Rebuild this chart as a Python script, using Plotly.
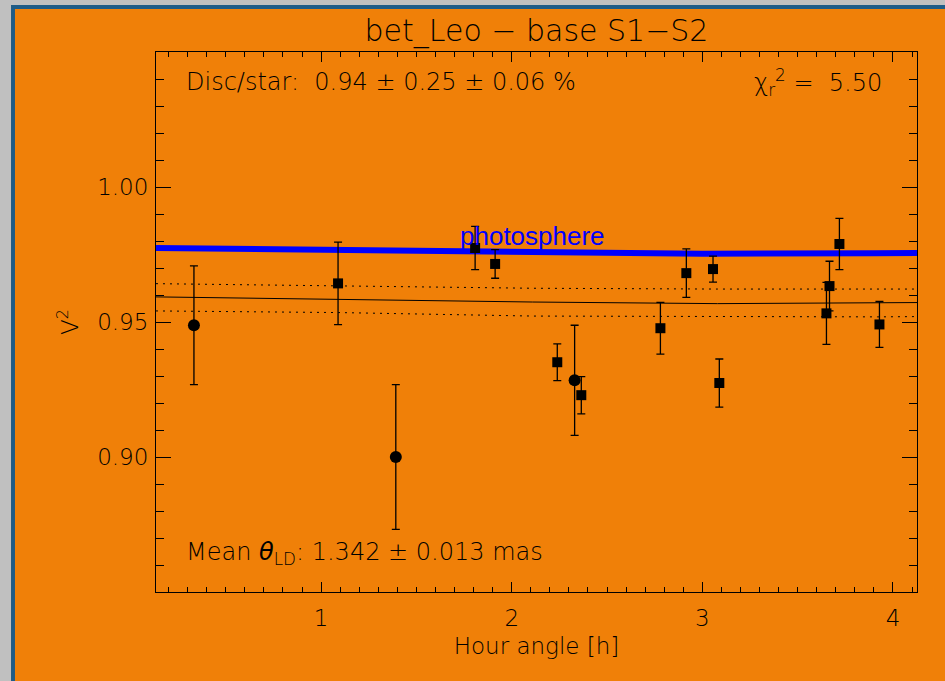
import plotly.graph_objects as go

ha_sq = [1.089, 1.808, 1.913, 2.239, 2.365, 2.780, 2.916, 3.056, 3.089, 3.651, 3.667, 3.719, 3.929]
v2_sq = [0.9643, 0.9774, 0.9715, 0.9351, 0.9229, 0.9477, 0.9681, 0.9696, 0.9274, 0.9532, 0.9633, 0.9789, 0.9491]
err_sq = [0.0153, 0.0080, 0.0053, 0.0068, 0.0069, 0.0096, 0.0090, 0.0048, 0.0089, 0.0115, 0.0092, 0.0095, 0.0085]

ha_dot = [0.333, 1.392, 2.330]
v2_dot = [0.9488, 0.9000, 0.9284]
err_dot = [0.0220, 0.0268, 0.0204]

# Model curves
model_ha = [0.134, 1.09, 2.11, 3.08, 3.92, 4.126]
model_v2 = [0.9593, 0.9584, 0.9574, 0.9568, 0.9573, 0.9572]
model_hi = [0.9642, 0.9635, 0.9625, 0.9622, 0.9621, 0.9622]
model_lo = [0.9541, 0.9535, 0.9522, 0.9519, 0.9519, 0.9520]

photo_ha = [0.134, 1.09, 1.6, 2.1, 3.0, 3.9, 4.126]
photo_v2 = [0.9774, 0.9766, 0.9760, 0.9756, 0.9753, 0.9755, 0.9756]

x_ticks = [1, 2, 3, 4]
y_ticks = [0.90, 0.95, 1.00]
y_tick_text = ['0.90', '0.95', '1.00']

orange = '#F08008'
font_main = 'DejaVu Sans ExtraLight, DejaVu Sans'

fig = go.Figure()

fig.add_trace(go.Scatter(x=photo_ha, y=photo_v2, mode='lines',
                         line=dict(color='#0000FF', width=6), hoverinfo='skip'))
fig.add_trace(go.Scatter(x=model_ha, y=model_hi, mode='lines',
                         line=dict(color='black', width=1, dash='2px,5px')))
fig.add_trace(go.Scatter(x=model_ha, y=model_lo, mode='lines',
                         line=dict(color='black', width=1, dash='2px,5px')))
fig.add_trace(go.Scatter(x=model_ha, y=model_v2, mode='lines',
                         line=dict(color='black', width=1)))

err_style = dict(type='data', thickness=1.3, width=4, color='black')
fig.add_trace(go.Scatter(x=ha_sq, y=v2_sq, mode='markers',
                         marker=dict(symbol='square', size=10, color='black'),
                         error_y=dict(array=err_sq, **err_style)))
fig.add_trace(go.Scatter(x=ha_dot, y=v2_dot, mode='markers',
                         marker=dict(symbol='circle', size=12, color='black'),
                         error_y=dict(array=err_dot, **err_style)))

# Text labels inside the frame
txt = dict(family=font_main, size=24, color='black', weight=200)
fig.add_annotation(x=0.037, y=0.944, xref='paper', yref='paper', xanchor='left', yanchor='middle',
                   text='Disc/star:\u00a0\u00a00.94 \u00b1 0.25 \u00b1 0.06 %', showarrow=False, font=txt)
fig.add_annotation(x=0.9566, y=0.944, xref='paper', yref='paper', xanchor='right', yanchor='middle',
                   text='\u03c7<sub>r</sub><sup>2</sup> =\u00a0\u00a05.50', showarrow=False, font=txt)
fig.add_annotation(x=0.037, y=0.072, xref='paper', yref='paper', xanchor='left', yanchor='middle',
                   text='Mean <i>\u03b8</i><sub>LD</sub>: 1.342 \u00b1 0.013 mas', showarrow=False, font=txt)
fig.add_annotation(x=1.72, y=0.982, xanchor='left', yanchor='middle', text='photosphere',
                   showarrow=False, font=dict(family='Liberation Sans', size=26, color='#0000FF'))

# Window frame around the chart
frame = [(-0.205, -0.1905, -0.2, 1.2, '#C0C0C0'), (-0.1905, -0.1853, -0.2, 1.0796, '#1F5C87'),
         (-0.205, 1.2, 1.087, 1.2, '#C0C0C0'), (-0.1905, 1.2, 1.0796, 1.087, '#1F5C87')]
for x0, x1, y0, y1, c in frame:
    fig.add_shape(type='rect', xref='paper', yref='paper', x0=x0, x1=x1, y0=y0, y1=y1,
                  fillcolor=c, line=dict(width=0), layer='above')

axis_common = dict(showgrid=False, zeroline=False, showline=True, linecolor='black', linewidth=1,
                   mirror='allticks', ticks='inside', tickcolor='black', tickwidth=1,
                   tickfont=dict(family=font_main, size=23, color='black', weight=200))

fig.update_xaxes(range=[0.134, 4.126], tickvals=x_ticks, ticklen=10, ticklabelstandoff=5,
                 minor=dict(dtick=0.1, ticklen=5, ticks='inside', tickcolor='black', tickwidth=1),
                 title=dict(text='Hour angle [h]', standoff=8,
                            font=dict(family=font_main, size=23, color='black', weight=200)),
                 **axis_common)
fig.update_yaxes(range=[0.85, 1.05], tickvals=y_ticks, ticktext=y_tick_text, ticklen=15,
                 ticklabelstandoff=2,
                 minor=dict(dtick=0.01, ticklen=8, ticks='inside', tickcolor='black', tickwidth=1),
                 title=dict(text='V<sup>2</sup>', standoff=12,
                            font=dict(family=font_main, size=23, color='black', weight=200)),
                 **axis_common)

fig.update_layout(
    width=945, height=681,
    margin=dict(l=156, r=28, t=52, b=89),
    paper_bgcolor=orange, plot_bgcolor=orange,
    showlegend=False,
    title=dict(text='bet_Leo \u2212 base S1\u2212S2', x=0.5, xref='paper', y=1 - 30 / 681,
               yref='container', yanchor='middle',
               font=dict(family=font_main, size=30, color='black', weight=200)),
)

fig.write_html('out.html', config={'displayModeBar': False},
               post_script="document.body.style.margin='0';")
